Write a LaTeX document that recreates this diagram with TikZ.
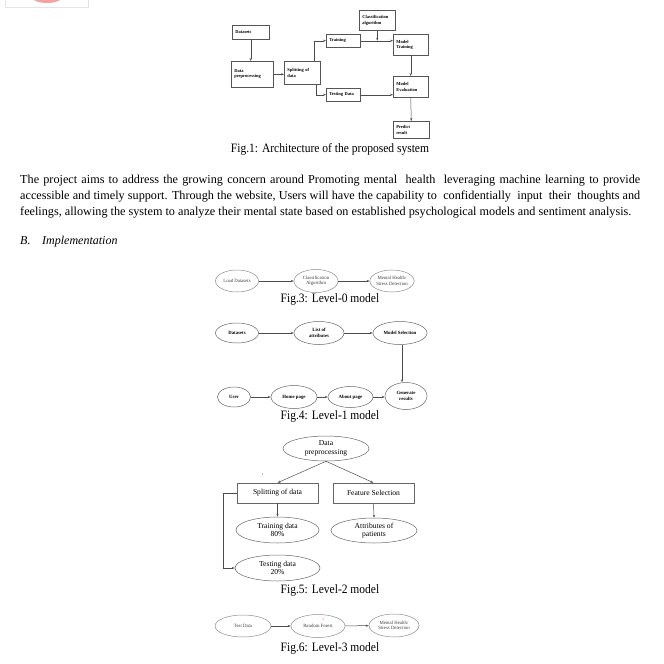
\documentclass[tikz,border=0pt]{standalone}
\usepackage{fontspec}
\setmainfont{Liberation Serif}
\newfontfamily\capfamily[FakeStretch=0.9]{Liberation Serif}
\usetikzlibrary{arrows.meta, shapes.geometric, positioning}
\definecolor{boxline}{HTML}{555555}
\definecolor{ellline}{HTML}{8C8C8C}
\definecolor{elltext}{HTML}{3C3C3C}
\definecolor{stampred}{HTML}{F4A3A3}
\definecolor{stampgray}{HTML}{E4E4E4}

\begin{document}
\begin{tikzpicture}[x=1pt, y=-1pt,
    arch box/.style 2 args={draw=boxline, line width=0.5pt, anchor=north west, align=left,
        inner xsep=3pt, inner ysep=0pt, text width=#1, minimum height=#2,
        font=\fontsize{4.5}{5.5}\selectfont\bfseries},
    flow ell/.style={ellipse, draw=ellline, line width=0.5pt, inner sep=0pt, align=center,
        text=elltext, font=\fontsize{4.8}{5.6}\selectfont},
    bold ell/.style={flow ell, draw=black!60, text=black, font=\fontsize{4.8}{5.6}\selectfont\bfseries},
    big ell/.style={flow ell, draw=black!60, text=black, font=\fontsize{7.6}{8.6}\selectfont},
    big box/.style={draw=black!60, line width=0.5pt, inner sep=0pt, minimum width=81, minimum height=20,
        font=\fontsize{7.6}{8.6}\selectfont},
    flow/.style={draw=black!70, line width=0.5pt, -{Stealth[length=3pt, width=2.2pt]}},
    fig cap/.style={font=\capfamily\fontsize{12.8}{14}\selectfont, anchor=base, inner sep=0pt},
    body line/.style={font=\fontsize{12.2}{14}\selectfont, anchor=base west, inner sep=0pt},
  ]

  \useasboundingbox (0,0) rectangle (664,664);

  % Stamp at the top left corner
  \begin{scope}
    \clip (5,0) rectangle (88,7);
    \fill[stampred] (47,-4) ellipse [x radius=16, y radius=7];
  \end{scope}
  \draw[stampgray, line width=0.6pt] (5,-1) -- (5,7) -- (88,7) -- (88,-1);

  % Fig.1 -- Architecture
  \node[arch box={31pt}{14pt}] (datasets) at (232,25) {Datasets};
  \node[arch box={36pt}{26pt}] (prep) at (231,61) {Data\\preprocessing};
  \node[arch box={30pt}{23pt}] (split) at (284,61) {Splitting of\\data};
  \node[arch box={28pt}{13pt}] (training) at (326,34) {Training};
  \node[arch box={28pt}{13pt}] (testing) at (326,88) {Testing Data};
  \node[arch box={30pt}{20pt}] (classif) at (359,10) {Classification\\algorithm};
  \node[arch box={29pt}{21pt}] (mtrain) at (393,34) {Model\\Training};
  \node[arch box={29pt}{21pt}] (meval) at (393,76) {Model\\Evaluation};
  \node[arch box={30pt}{17pt}] (predict) at (393,121) {Predict\\result};

  \draw[flow] (datasets.south) -- (datasets.south |- prep.north);
  \draw[flow] (prep.east) -- (prep.east -| split.west);
  \draw[flow] ([xshift=12pt]split.north) |- (training.west);
  \draw[flow] ([xshift=14pt]split.south) |- (testing.west);
  \draw[flow] (training.east) -- (training.east -| mtrain.west);
  \draw[flow] (classif.south) -- (classif.south |- training.east);
  \draw[flow] (mtrain.south) -- (meval.north);
  \draw[flow] (testing.east) -- (testing.east -| meval.west);
  \draw[flow] (meval.south) -- (predict.north);

  \node[fig cap] (cap1) at (330,152) {Fig.1: Architecture of the proposed system};

  % Text
  \node[body line] (line1) at (20,183.5) {\makebox[620pt][s]{The project aims to address the growing concern around Promoting mental\ \ health\ \ leveraging machine learning to provide}};
  \node[body line] (line2) at (20,199.5) {\makebox[620pt][s]{accessible and timely support. Through the website, Users will have the capability to\ \ confidentially\ \ input\ \ their\ \ thoughts and}};
  \node[body line] (line3) at (20,215.5) {feelings, allowing the system to analyze their mental state based on established psychological models and sentiment analysis.};
  \node[body line, font=\fontsize{12}{14}\selectfont\itshape] (secB) at (20,244) {B.};
  \node[body line, font=\fontsize{12}{14}\selectfont\itshape] (impl) at (42,244) {Implementation};

  % Fig.3 -- Level-0
  \node[flow ell, minimum width=43, minimum height=22] (load) at (237,281) {Load Datasets};
  \node[flow ell, minimum width=44, minimum height=23] (algo) at (316,281) {Classification\\Algorithm};
  \node[flow ell, minimum width=44, minimum height=22] (detect) at (392,281) {Mental Health/\\Stress Detection};
  \draw[flow] (load) -- (algo);
  \draw[flow] (algo) -- (detect);
  \node[fig cap] (cap3) at (330,302) {Fig.3: Level-0 model};

  % Fig.4 -- Level-1
  \node[bold ell, minimum width=43, minimum height=20] (data1) at (237,333) {Datasets};
  \node[bold ell, minimum width=50, minimum height=23] (attr1) at (319,333) {List of\\attributes};
  \node[bold ell, minimum width=54, minimum height=23] (msel) at (400,333) {Model Selection};
  \node[bold ell, minimum width=33, minimum height=20] (user) at (234,397) {User};
  \node[bold ell, minimum width=46, minimum height=23] (home) at (294,397) {Home page};
  \node[bold ell, minimum width=45, minimum height=21] (about) at (350.5,397) {About page};
  \node[bold ell, minimum width=42, minimum height=27] (gen) at (406,396) {Generate\\results};
  \draw[flow] (data1) -- (attr1);
  \draw[flow] (attr1) -- (msel);
  \draw[flow] ([xshift=2pt]msel.south) -- ([xshift=2pt]msel.south |- gen.north);
  \draw[flow] (user.east) -- (home.west);
  \draw[flow] (home.east) -- (about.west);
  \draw[flow] (about.east) -- (gen.west |- about.east);
  \node[fig cap] (cap4) at (330,419) {Fig.4: Level-1 model};

  % Fig.5 -- Level-2
  \node[big ell, minimum width=86, minimum height=25] (dprep) at (326,448.5) {Data\\preprocessing};
  \node[big box] (split2) at (277.5,493) {Splitting of data};
  \node[big box] (feat) at (373.5,493) {Feature Selection};
  \node[big ell, minimum width=83, minimum height=26] (train2) at (277.5,530) {Training data\\80\%};
  \node[big ell, minimum width=86, minimum height=25] (patients) at (374,530.5) {Attributes of\\patients};
  \node[big ell, minimum width=85, minimum height=26] (test2) at (277.5,568) {Testing data\\20\%};
  \draw[flow] (dprep.south) -- (split2.north);
  \draw[flow] (dprep.south) -- (feat.north);
  \draw[flow] (split2.south) -- (train2.north);
  \draw[flow] (feat.south) -- (patients.north);
  \draw[flow] (split2.west) -- ++(-14,0) |- (test2.west);
  \fill[red!70] (262.5,474) circle [radius=0.7];
  \node[fig cap] (cap5) at (330,593) {Fig.5: Level-2 model};

  % Fig.6 -- Level-3
  \node[flow ell, minimum width=56, minimum height=22] (testd) at (243,626) {Test Data};
  \node[flow ell, minimum width=54, minimum height=23] (forest) at (318,626) {Random Forest};
  \node[flow ell, minimum width=50, minimum height=23] (detect3) at (394,625.5) {Mental Health/\\Stress Detection};
  \draw[flow] (testd) -- (forest);
  \draw[flow] (forest) -- (detect3);
  \fill[red!70] (323,619) circle [radius=0.6];
  \node[fig cap] (cap6) at (330,651) {Fig.6: Level-3 model};

\end{tikzpicture}
\end{document}
